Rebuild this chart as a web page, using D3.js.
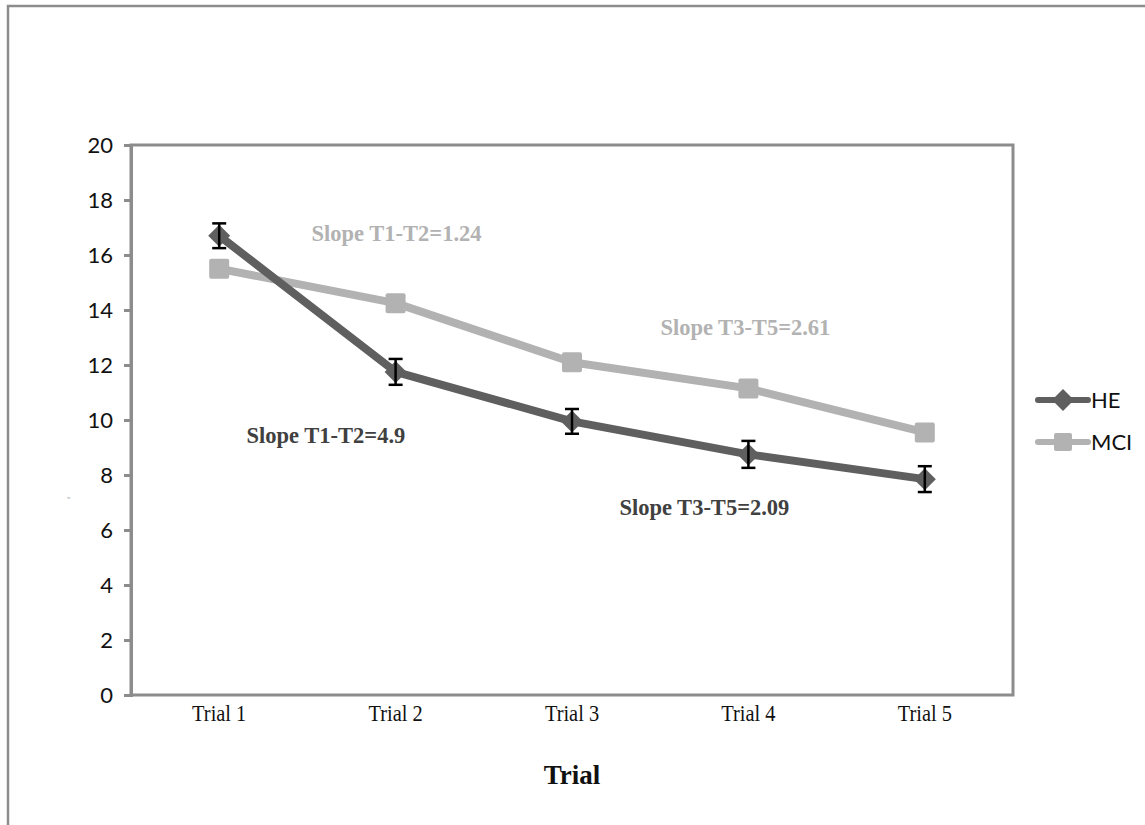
<!DOCTYPE html>
<html><head><meta charset="utf-8">
<script src="https://cdn.jsdelivr.net/npm/d3@7"></script>
<style>body{margin:0;background:#fff}</style>
</head><body>
<svg id="c" width="1145" height="825"></svg>
<script>
const categories = ["Trial 1","Trial 2","Trial 3","Trial 4","Trial 5"];
const heValues = [16.7, 11.75, 9.95, 8.75, 7.85];
const heErrors = [0.45, 0.47, 0.45, 0.49, 0.47];
const mciValues = [15.5, 14.25, 12.1, 11.15, 9.55];
const yTicks = [0,2,4,6,8,10,12,14,16,18,20];
const seriesNames = ["HE","MCI"];
const annotations = [
  {text:"Slope T1-T2=1.24", series:"MCI", cat:1, val:16.5, dx:-84},
  {text:"Slope T3-T5=2.61", series:"MCI", cat:3, val:13.1, dx:-88},
  {text:"Slope T1-T2=4.9", series:"HE", cat:1, val:9.15, dx:-149},
  {text:"Slope T3-T5=2.09", series:"HE", cat:3, val:6.55, dx:-129}
];

const svg = d3.select("#c");
const M = {l:131, t:145, r:1013, b:695};
const heColor = "#5f5f5f", mciColor = "#b2b2b2", axisColor = "#8c8c8c";

svg.append("path").attr("d","M8,825 V6 H1145").attr("fill","none").attr("stroke",axisColor).attr("stroke-width",2.5);

const x = d3.scaleBand().domain(categories).range([M.l, M.r]);
const y = d3.scaleLinear().domain([0,20]).range([M.b, M.t]);
const cx = c => x(c) + x.bandwidth()/2;

svg.append("rect").attr("x",M.l).attr("y",M.t).attr("width",M.r-M.l).attr("height",M.b-M.t)
  .attr("fill","none").attr("stroke",axisColor).attr("stroke-width",3);

const yAxis = svg.append("g").attr("transform",`translate(${M.l},0)`)
  .call(d3.axisLeft(y).tickValues(yTicks).tickSize(7).tickPadding(11).tickFormat(d3.format("d")));
yAxis.select(".domain").attr("stroke",axisColor).attr("stroke-width",3);
yAxis.selectAll(".tick line").attr("stroke",axisColor).attr("stroke-width",3);
yAxis.selectAll(".tick text").attr("font-family","Lato, 'DejaVu Sans', sans-serif").attr("font-size",22).attr("fill","#111");

const xAxis = svg.append("g").attr("transform",`translate(0,${M.b})`)
  .call(d3.axisBottom(x).tickSize(0).tickPadding(9));
xAxis.select(".domain").remove();
xAxis.selectAll(".tick text").attr("font-family","'Liberation Serif', serif").attr("font-size",24)
  .attr("fill","#111").attr("transform","scale(0.85,1)");

svg.append("text").attr("x",(M.l+M.r)/2).attr("y",784).attr("text-anchor","middle")
  .attr("font-family","'Liberation Serif', serif").attr("font-weight","bold").attr("font-size",27)
  .attr("fill","#111").text("Trial");

svg.append("text").attr("transform","translate(70,498) rotate(-90)").attr("text-anchor","middle")
  .attr("font-family","'Liberation Serif', serif").attr("font-size",5).attr("fill","#666").text("f");

const line = d3.line().x((d,i)=>cx(categories[i])).y(d=>y(d));

svg.append("path").datum(mciValues).attr("d",line).attr("fill","none").attr("stroke",mciColor).attr("stroke-width",8).attr("stroke-linejoin","round");
svg.selectAll(".mci").data(mciValues).enter().append("rect")
  .attr("x",(d,i)=>cx(categories[i])-10).attr("y",d=>y(d)-10).attr("width",20).attr("height",20).attr("rx",2)
  .attr("fill",mciColor);

svg.append("path").datum(heValues).attr("d",line).attr("fill","none").attr("stroke",heColor).attr("stroke-width",8).attr("stroke-linejoin","round");
svg.selectAll(".he").data(heValues).enter().append("path")
  .attr("d",(d,i)=>{const X=cx(categories[i]),Y=y(d),r=11;return `M${X},${Y-r}L${X+r},${Y}L${X},${Y+r}L${X-r},${Y}Z`;})
  .attr("fill",heColor);
const eb = svg.append("g").attr("stroke","#000").attr("stroke-width",2.5);
heValues.forEach((v,i)=>{
  const X=cx(categories[i]), e=heErrors[i];
  eb.append("line").attr("x1",X).attr("x2",X).attr("y1",y(v+e)).attr("y2",y(v-e));
  eb.append("line").attr("x1",X-7).attr("x2",X+7).attr("y1",y(v+e)).attr("y2",y(v+e));
  eb.append("line").attr("x1",X-7).attr("x2",X+7).attr("y1",y(v-e)).attr("y2",y(v-e));
});

annotations.forEach(a=>{
  const he = a.series==="HE";
  svg.append("text").attr("x",cx(categories[a.cat])+a.dx).attr("y",y(a.val))
    .attr("font-family","'Liberation Serif', serif").attr("font-weight","bold").attr("font-size",22.5)
    .attr("fill",he?"#404040":"#b2b2b2").text(a.text);
});

const lg = svg.append("g");
seriesNames.forEach((s,i)=>{
  const Y = 400 + i*42;
  const col = s==="HE"?heColor:mciColor;
  lg.append("line").attr("x1",1038).attr("x2",1088).attr("y1",Y).attr("y2",Y).attr("stroke",col).attr("stroke-width",6).attr("stroke-linecap","round");
  if(s==="HE") lg.append("path").attr("d",`M1063,${Y-11}L1074,${Y}L1063,${Y+11}L1052,${Y}Z`).attr("fill",col);
  else lg.append("rect").attr("x",1054).attr("y",Y-9).attr("width",18).attr("height",18).attr("rx",2).attr("fill",col);
  lg.append("text").attr("x",1091).attr("y",Y+8).attr("font-family","Lato, 'DejaVu Sans', sans-serif").attr("font-size",22).attr("fill","#111").text(s);
});
</script>
</body></html>
